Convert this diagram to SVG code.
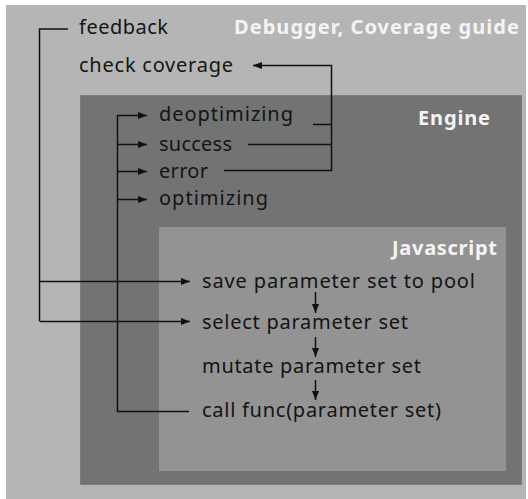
<svg xmlns="http://www.w3.org/2000/svg" width="528" height="499" viewBox="0 0 528 499">
<defs>
<marker id="ah" markerUnits="userSpaceOnUse" markerWidth="10" markerHeight="8" refX="9" refY="3.5" orient="auto">
<path d="M0,0 L9,3.5 L0,7 z" fill="#111"/>
</marker>
<style>
.lbl{font-family:"Noto Sans","Open Sans",sans-serif;font-size:20px;fill:#141414}
.ttl{font-family:"Noto Sans","Open Sans",sans-serif;font-size:20px;font-weight:bold;fill:#f4f4f4}
.ln{stroke:#111;stroke-width:1.5;fill:none}
.ar{stroke:#111;stroke-width:1.5;fill:none;marker-end:url(#ah)}
</style>
</defs>
<rect x="0" y="0" width="528" height="499" fill="#ffffff"/>
<g id="debugger">
<rect x="6" y="5" width="520" height="494" fill="#b5b5b5"/>
<text class="ttl" x="234" y="34" textLength="285">Debugger, Coverage guide</text>
</g>
<g id="engine">
<rect x="80.5" y="95.5" width="441" height="389" fill="#737373" stroke="#7d7d7d" stroke-width="1"/>
<text class="ttl" x="418" y="125" textLength="72">Engine</text>
</g>
<g id="javascript">
<rect x="159" y="227" width="347" height="244" fill="#939393"/>
<text class="ttl" x="392" y="255" textLength="105">Javascript</text>
</g>
<g id="feedback"><text class="lbl" x="79" y="34" textLength="89">feedback</text></g>
<g id="check-coverage"><text class="lbl" x="79" y="72" textLength="154">check coverage</text></g>
<g id="deoptimizing"><text class="lbl" x="159" y="121" textLength="134">deoptimizing</text></g>
<g id="success"><text class="lbl" x="159" y="151" textLength="73">success</text></g>
<g id="error"><text class="lbl" x="159" y="178" textLength="49">error</text></g>
<g id="optimizing"><text class="lbl" x="159" y="205" textLength="109">optimizing</text></g>
<g id="save"><text class="lbl" x="202" y="288" textLength="273">save parameter set to pool</text></g>
<g id="select"><text class="lbl" x="202" y="329" textLength="206">select parameter set</text></g>
<g id="mutate"><text class="lbl" x="202" y="373" textLength="219">mutate parameter set</text></g>
<g id="call"><text class="lbl" x="202" y="417" textLength="239">call func(parameter set)</text></g>
<g id="connectors">
<path class="ln" d="M68,29 H39.5 V321"/>
<path class="ar" d="M39.5,281.5 H190"/>
<path class="ar" d="M39.5,321.5 H190"/>
<path class="ln" d="M189,411.5 H117.5 V115"/>
<path class="ar" d="M117,115.5 H147"/>
<path class="ar" d="M117,144.5 H147"/>
<path class="ar" d="M117,171.5 H147"/>
<path class="ar" d="M117,199.5 H147"/>
<path class="ln" d="M313,124.5 H331.5"/>
<path class="ln" d="M248,144.5 H331.5"/>
<path class="ar" d="M224,170.5 H331.5 V65.5 H253"/>
<path class="ar" d="M315.5,292 V313"/>
<path class="ar" d="M315.5,337 V357"/>
<path class="ar" d="M315.5,380 V400"/>
</g>
</svg>
